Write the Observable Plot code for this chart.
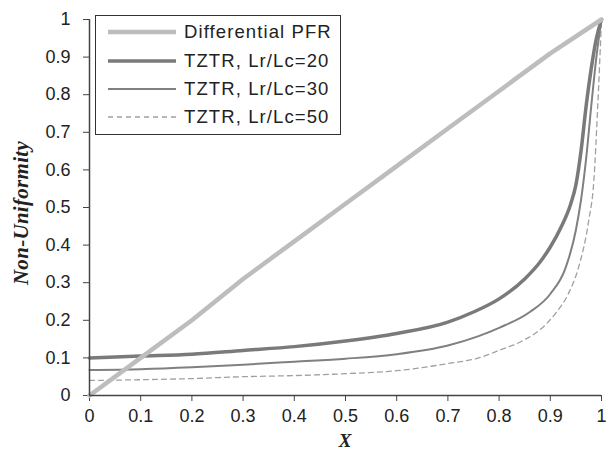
<!DOCTYPE html>
<html>
<head>
<meta charset="utf-8">
<script src="https://cdn.jsdelivr.net/npm/d3@7"></script>
<script src="https://cdn.jsdelivr.net/npm/@observablehq/plot@0.6"></script>
<style>
  html, body { margin: 0; padding: 0; background: #fff; }
  #wrap { position: relative; width: 606px; height: 451px; overflow: hidden; }
  #legend { position: absolute; left: 95px; top: 15px; width: 246px; height: 120px;
    border: 1px solid #333; background: #fff; box-sizing: border-box;
    font-family: "Liberation Sans", Arial, sans-serif; font-size: 18.5px; color: #222; }
  .row { position: absolute; left: 0; height: 22px; display: flex; align-items: center; }
  .row svg { margin-left: 12px; }
  .row span { margin-left: 8px; letter-spacing: 1.1px; white-space: nowrap; }
  .ytitle { position: absolute; left: 21px; top: 213px; transform: translate(-50%, -50%) rotate(-90deg);
    font-family: "Liberation Serif", "Times New Roman", serif; font-weight: bold; font-style: italic;
    font-size: 21px; color: #222; white-space: nowrap; letter-spacing: 0.3px; line-height: 1; }
  .xtitle { position: absolute; left: 345px; top: 431px; transform: translateX(-50%);
    font-family: "Liberation Serif", "Times New Roman", serif; font-weight: bold; font-style: italic;
    font-size: 19px; color: #222; line-height: 1; }
</style>
</head>
<body>
<div id="wrap"></div>
<script>
// Series data
const seriesNames = ["Differential PFR", "TZTR, Lr/Lc=20", "TZTR, Lr/Lc=30", "TZTR, Lr/Lc=50"];

const pfrX = [0, 0.1, 0.2, 0.3, 0.4, 0.5, 0.6, 0.7, 0.8, 0.9, 1];
const pfrY = [0, 0.1, 0.2, 0.31, 0.41, 0.51, 0.61, 0.71, 0.81, 0.91, 1];

const t20X = [0, 0.1, 0.2, 0.3, 0.4, 0.5, 0.6, 0.7, 0.75, 0.8, 0.85, 0.88, 0.9, 0.92, 0.94, 0.95, 0.96, 0.97, 0.98, 0.99, 1];
const t20Y = [0.10, 0.105, 0.11, 0.12, 0.13, 0.145, 0.165, 0.195, 0.222, 0.257, 0.31, 0.355, 0.395, 0.445, 0.51, 0.56, 0.65, 0.77, 0.87, 0.95, 1.0];

const t30X = [0, 0.1, 0.2, 0.3, 0.4, 0.5, 0.6, 0.7, 0.76, 0.8, 0.86, 0.9, 0.93, 0.95, 0.96, 0.97, 0.98, 0.99, 1];
const t30Y = [0.068, 0.07, 0.075, 0.082, 0.09, 0.098, 0.11, 0.133, 0.158, 0.18, 0.222, 0.27, 0.34, 0.44, 0.52, 0.63, 0.77, 0.9, 1.0];

const t50X = [0, 0.1, 0.2, 0.3, 0.4, 0.5, 0.6, 0.7, 0.76, 0.8, 0.845, 0.88, 0.91, 0.935, 0.955, 0.975, 0.985, 0.993, 1];
const t50Y = [0.04, 0.042, 0.045, 0.05, 0.053, 0.058, 0.066, 0.085, 0.10, 0.12, 0.145, 0.175, 0.218, 0.27, 0.34, 0.465, 0.57, 0.78, 1.0];

const xTicks = [0, 0.1, 0.2, 0.3, 0.4, 0.5, 0.6, 0.7, 0.8, 0.9, 1];
const yTicks = [0, 0.1, 0.2, 0.3, 0.4, 0.5, 0.6, 0.7, 0.8, 0.9, 1];

const styles = [
  {stroke: "#bdbdbd", strokeWidth: 4.5, dash: null},
  {stroke: "#7a7a7a", strokeWidth: 3.5, dash: null},
  {stroke: "#808080", strokeWidth: 2, dash: null},
  {stroke: "#a0a0a0", strokeWidth: 1.3, dash: "5,4"}
];

const toRows = (xs, ys) => xs.map((x, i) => ({x, y: ys[i]}));
const datasets = [toRows(pfrX, pfrY), toRows(t20X, t20Y), toRows(t30X, t30Y), toRows(t50X, t50Y)];

const fmt = d => String(d);

const lineMarks = datasets.map((data, i) =>
  Plot.line(data, {
    x: "x", y: "y",
    stroke: styles[i].stroke,
    strokeWidth: styles[i].strokeWidth,
    strokeDasharray: styles[i].dash || undefined,
    curve: i === 0 ? "linear" : "monotone-x"
  })
);

const chart = Plot.plot({
  width: 606,
  height: 451,
  marginLeft: 89,
  marginRight: 5,
  marginTop: 19,
  marginBottom: 56,
  style: {fontFamily: "'Liberation Sans', Arial, sans-serif", fontSize: "18px", color: "#222", background: "#fff"},
  x: {domain: [0, 1], label: null},
  y: {domain: [0, 1], label: null},
  marks: [
    Plot.axisX({ticks: xTicks, tickFormat: fmt, tickSize: 6, tickPadding: 8, label: null, stroke: "#444"}),
    Plot.axisY({ticks: yTicks, tickFormat: fmt, tickSize: 6, tickPadding: 13, label: null, stroke: "#444"}),
    ...lineMarks.slice(1).reverse(),
    lineMarks[0],
    Plot.ruleX([0], {stroke: "#444", strokeWidth: 1.5}),
    Plot.ruleY([0], {stroke: "#444", strokeWidth: 1.5})
  ]
});

const wrap = document.getElementById("wrap");
wrap.appendChild(chart);

// Legend
const legend = document.createElement("div");
legend.id = "legend";
const rowTops = [5, 34, 62, 90];
seriesNames.forEach((name, i) => {
  const row = document.createElement("div");
  row.className = "row";
  row.style.top = rowTops[i] + "px";
  const s = styles[i];
  row.innerHTML = `<svg width="68" height="10"><line x1="0" y1="5" x2="68" y2="5" stroke="${s.stroke}" stroke-width="${s.strokeWidth}" ${s.dash ? `stroke-dasharray="${s.dash}"` : ""}/></svg><span>${name}</span>`;
  legend.appendChild(row);
});
wrap.appendChild(legend);

const yt = document.createElement("div");
yt.className = "ytitle";
yt.textContent = "Non-Uniformity";
wrap.appendChild(yt);

const xt = document.createElement("div");
xt.className = "xtitle";
xt.textContent = "X";
wrap.appendChild(xt);
</script>
</body>
</html>
